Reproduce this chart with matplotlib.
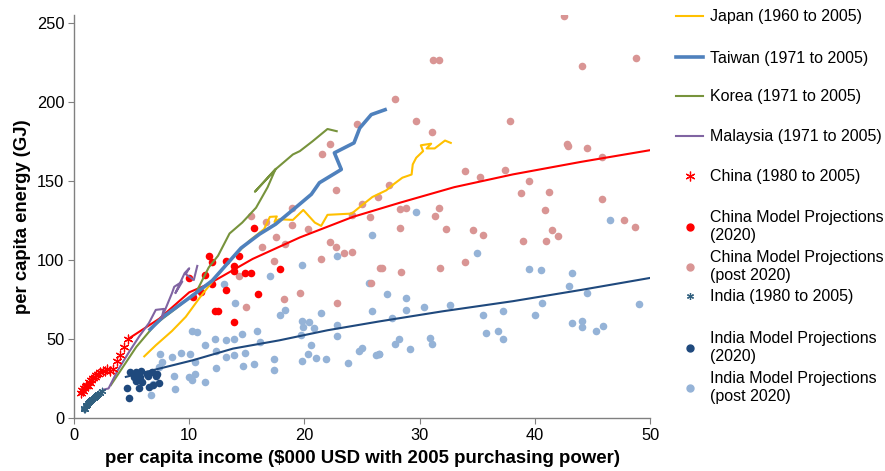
import numpy as np
import matplotlib
matplotlib.use('Agg')
from matplotlib import pyplot as plt
from matplotlib.lines import Line2D

plt.rcParams['font.family'] = ['Liberation Sans', 'DejaVu Sans']

# historical paths (per capita income $000, per capita energy GJ)
japan_x = [6.1, 7.1, 8.5, 9.7, 10.9, 12.3, 13.8, 15.2, 16.5, 17.0, 17.6, 17.4, 17.8, 19.0, 19.9, 20.9,
           21.45, 22.0, 24.1, 25.1, 25.9, 27.1, 27.8, 28.5, 29.3, 29.4, 29.7, 30.3, 30.1, 31.0, 30.6, 31.3,
           32.2, 32.7]
japan_y = [39, 46, 55, 64, 76, 89, 101.5, 112, 119.5, 127.2, 127.5, 124.0, 125.7, 125.3, 131.6, 123.6,
           121.5, 128.5, 129.3, 135.2, 139.8, 144, 148.2, 152, 154, 160.4, 164.6, 168.8, 172.5, 173.5, 170.5,
           170.5, 175.5, 174]

taiwan_x = [6.6, 7.7, 10.3, 12.0, 14.5, 16.1, 17.5, 19.3, 20.6, 21.3, 23.2, 22.6, 24.3, 24.8, 25.8, 27.0]
taiwan_y = [56, 63.8, 77.5, 86.9, 107.5, 116.3, 122.6, 133.5, 141.5, 148.8, 157.2, 167.7, 174, 183.4,
            191.9, 195]

korea_x = [3.2, 5.4, 7.1, 8.8, 10.6, 11.7, 12.5, 13.5, 14.6, 15.8, 16.8, 17.5, 15.7, 17.6, 19.0, 19.6,
           20.7, 22.0, 22.8]
korea_y = [20.8, 44.9, 59.6, 69, 79.5, 95.3, 102.6, 116.7, 123.6, 133, 145.9, 157.6, 143.1, 158, 166.7,
           168.8, 175, 182.8, 181.4]

malaysia_x = [2.6, 3.0, 3.8, 4.8, 5.65, 6.5, 7.1, 7.8, 7.6, 8.5, 8.7, 9.4, 8.8, 9.6, 10.0, 9.7, 10.4, 10.7]
malaysia_y = [18, 18.7, 30.2, 42, 51.5, 60, 68.4, 69, 63, 78.9, 83, 86.3, 79, 91.6, 94.7, 91, 87.3, 96.2]

china_hist_x = [0.6, 0.7, 0.8, 0.9, 1.0, 1.1, 1.2, 1.3, 1.4, 1.5, 1.65, 1.8, 1.95, 2.1, 2.3, 2.5, 2.7,
                2.9, 3.1, 3.4, 3.7, 4.0, 4.3, 4.7]
china_hist_y = [16, 18, 17, 19, 20, 21, 20, 23, 22, 24, 25, 26, 27, 28, 29, 30, 30, 31, 30, 31, 36, 40,
                45, 50]

india_hist_x = [0.85, 0.9, 0.95, 1.0, 1.05, 1.1, 1.15, 1.2, 1.3, 1.35, 1.4, 1.5, 1.6, 1.7, 1.8, 1.9, 2.0,
                2.1, 2.25, 2.4]
india_hist_y = [5.5, 6.5, 6, 7.5, 8, 8.5, 8, 9.5, 10, 10.5, 11, 11.5, 12, 12.5, 13.5, 14, 14.5, 15, 16, 17]

# model projections
china_2020_x = [15.6, 11.7, 12.0, 13.2, 14.3, 13.9, 13.9, 14.8, 15.4, 17.9, 11.4, 10.0, 12.0, 10.3, 11.0,
                13.2, 16.0, 12.2, 12.5, 13.9]
china_2020_y = [120, 102.6, 98.4, 99.5, 102.6, 96.3, 93.2, 91.5, 91.5, 94.5, 90.7, 88.6, 84.8, 76.4, 80,
                81, 78.5, 67.6, 67.6, 60.6]

china_post_x = [42.5, 31.2, 31.7, 48.8, 44.1, 27.9, 29.7, 37.8, 31.1, 42.8, 42.9, 44.5, 45.8, 33.9, 35.2,
                37.4, 27.3, 39.5, 38.8, 41.2, 45.8, 28.3, 28.8, 31.7, 31.3, 40.9, 28.3, 32.3, 34.6, 35.5,
                41.5, 42.0, 41.0, 39.0, 47.7, 48.7, 26.7, 28.4, 31.8, 33.9, 24.6, 22.2, 21.5, 22.7, 18.9,
                15.4, 16.7, 18.9, 20.3, 25.0, 26.4, 24.1, 25.7, 17.5, 18.3, 16.3, 22.2, 22.7, 23.4, 24.1,
                21.4, 17.4, 14.3, 26.6, 25.8, 19.6, 18.2, 22.8, 14.9]
china_post_y = [254, 226.7, 226.7, 227.7, 222.7, 202, 188, 187.8, 181, 173.6, 172, 170.6, 165, 156, 152.6,
                156.8, 147.5, 150, 142, 143, 138.7, 132, 132.7, 132.7, 128, 131.4, 120.3, 119.5, 118.8,
                115.9, 118.8, 115, 112, 112, 125.3, 120.5, 94.9, 92.4, 95.1, 98.9, 186.2, 173.2, 166.9,
                144.4, 133, 127.8, 124, 122.2, 119.8, 135.6, 140, 128.7, 127.4, 114.2, 109.8, 107.9, 111.5,
                107.9, 104.1, 105.2, 100.6, 99.5, 90, 94.6, 85.2, 78.9, 75.4, 72.9, 70.5]

india_2020_x = [4.9, 5.4, 5.8, 6.3, 6.8, 7.2, 5.2, 5.7, 6.4, 7.1, 4.6, 5.6, 6.5, 6.9, 7.4, 4.8, 5.4, 5.9]
india_2020_y = [29.2, 29.2, 29.6, 28.1, 29.2, 28.1, 26, 26, 26.4, 26.4, 18.7, 18.7, 19.7, 20.8, 21.9,
                12.8, 23.5, 22.9]

india_post_x = [29.7, 46.5, 35.0, 39.5, 40.5, 43.2, 43.0, 44.5, 27.2, 28.8, 28.8, 30.4, 32.6, 27.6, 35.5,
                37.2, 40.6, 40.0, 49.0, 43.2, 44.1, 44.1, 45.3, 45.9, 35.8, 36.8, 37.2, 28.2, 27.9, 30.9,
                31.1, 29.2, 26.5, 25.9, 22.8, 19.8, 17.0, 13.0, 25.6, 25.9, 14.0, 18.3, 17.9, 21.4, 19.8,
                20.4, 19.9, 20.8, 22.8, 22.8, 19.7, 10.2, 10.7, 15.9, 14.6, 12.2, 13.2, 13.9, 20.6, 11.4,
                12.3, 14.8, 16.1, 7.5, 7.6, 8.5, 9.3, 10.1, 10.5, 13.2, 13.9, 12.3, 14.7, 15.6, 17.4,
                20.3, 21.0, 19.8, 21.9, 23.8, 24.7, 25.0, 26.2, 26.5, 7.4, 8.7, 8.8, 10.0, 10.2, 10.5,
                11.4, 6.7, 6.9, 17.4]
india_post_y = [130.2, 125.3, 104.5, 94, 93.4, 91.9, 83.3, 79.3, 78.5, 75.8, 68.6, 70.1, 71.4, 63, 65.3,
                67.8, 73, 65, 72.4, 59.8, 61.5, 57.5, 54.8, 58.4, 53.7, 54.8, 49.7, 50.2, 46.8, 50.8, 47,
                43.9, 40.5, 115.9, 102.4, 97, 89.9, 85, 85.2, 67.4, 72.6, 68, 65.3, 66.3, 61.3, 60.6, 57.5,
                57.1, 58.6, 51.8, 52.5, 54.8, 54.6, 55, 52.9, 49.7, 49.6, 49.7, 46, 46.2, 42.6, 41.1, 47.9,
                40.3, 35.5, 38.4, 40.9, 40.3, 35.7, 38.6, 39.7, 31.7, 32.6, 34.4, 37.2, 40.7, 38, 36.1,
                37.6, 35.1, 42.4, 44.5, 40.1, 40.3, 32.3, 26.4, 18.5, 26, 23.9, 28.1, 22.9, 14.5, 21.8,
                30.2]

# fitted curves
china_fit_x = [4.7, 7.4, 10, 11.7, 15.5, 19.6, 24.2, 28.3, 33, 38.1, 44, 50]
china_fit_y = [50, 62.8, 79.5, 84.8, 100.6, 114.2, 127.2, 136.2, 146, 154.1, 162, 169.4]
india_fit_x = [4.5, 7.1, 10.3, 13.8, 17.8, 22, 26.5, 32, 38.1, 44, 50]
india_fit_y = [26, 30.7, 36.5, 43.9, 49.1, 55.5, 61.1, 67.5, 73.9, 81, 88.6]

c_japan = '#FFC000'
c_taiwan = '#4F81BD'
c_korea = '#77933C'
c_malaysia = '#8064A2'
c_china = '#FF0000'
c_china_post = '#D99594'
c_india = '#1F497D'
c_india_post = '#95B3D7'
c_india_hist = '#31607F'
star = (6, 2, 0)

fig = plt.figure(figsize=(8.85, 4.71), dpi=100)
ax = fig.add_axes([0.0836, 0.1125, 0.651, 0.856])

ax.scatter(india_post_x, india_post_y, s=30, color=c_india_post, zorder=2, linewidths=0)
ax.scatter(china_post_x, china_post_y, s=30, color=c_china_post, zorder=2, linewidths=0)
ax.scatter(india_2020_x, india_2020_y, s=30, color=c_india, zorder=3, linewidths=0)
ax.scatter(china_2020_x, china_2020_y, s=30, color=c_china, zorder=3, linewidths=0)

ax.plot(india_fit_x, india_fit_y, color=c_india, lw=1.5, zorder=4)
ax.plot(china_fit_x, china_fit_y, color=c_china, lw=1.5, zorder=4)

ax.plot(japan_x, japan_y, color=c_japan, lw=1.5, zorder=5)
ax.plot(korea_x, korea_y, color=c_korea, lw=1.5, zorder=5)
ax.plot(taiwan_x, taiwan_y, color=c_taiwan, lw=2.6, zorder=5)
ax.plot(malaysia_x, malaysia_y, color=c_malaysia, lw=1.5, zorder=6)

ax.scatter(china_hist_x, china_hist_y, s=40, marker=star, color=c_china, linewidths=0.9, zorder=6)
ax.scatter(india_hist_x, india_hist_y, s=22, marker=star, color=c_india_hist, linewidths=0.9, zorder=6)

ax.set_xlim(0, 50)
ax.set_ylim(0, 255)
ax.set_xticks([0, 10, 20, 30, 40, 50])
ax.set_yticks([0, 50, 100, 150, 200, 250])
for side in ['top', 'right']:
    ax.spines[side].set_visible(False)
for side in ['left', 'bottom']:
    ax.spines[side].set_color('#808080')
    ax.spines[side].set_linewidth(1.0)
ax.tick_params(direction='out', length=4, color='#808080', labelsize=11.8, pad=3)

ax.set_xlabel('per capita income ($000 USD with 2005 purchasing power)', fontsize=13.4,
              fontweight='bold', labelpad=5)
ax.set_ylabel('per capita energy (GJ)', fontsize=13.3, fontweight='bold', labelpad=4)

# legend, one entry at a time so the spacing follows the original
entries = [
    (Line2D([], [], color=c_japan, lw=1.5), 'Japan (1960 to 2005)', 17),
    (Line2D([], [], color=c_taiwan, lw=2.6), 'Taiwan (1971 to 2005)', 58),
    (Line2D([], [], color=c_korea, lw=1.5), 'Korea (1971 to 2005)', 97),
    (Line2D([], [], color=c_malaysia, lw=1.5), 'Malaysia (1971 to 2005)', 137),
    (Line2D([], [], ls='', marker=star, color=c_china, markersize=7, mew=0.9), 'China (1980 to 2005)', 177),
    (Line2D([], [], ls='', marker='o', color=c_china, markersize=5), 'China Model Projections\n(2020)', 226.5),
    (Line2D([], [], ls='', marker='o', color=c_china_post, markersize=5), 'China Model Projections\n(post 2020)', 266.5),
    (Line2D([], [], ls='', marker=star, color=c_india_hist, markersize=5, mew=0.9), 'India (1980 to 2005)', 297),
    (Line2D([], [], ls='', marker='o', color=c_india, markersize=5), 'India Model Projections\n(2020)', 347.5),
    (Line2D([], [], ls='', marker='o', color=c_india_post, markersize=5), 'India Model Projections\n(post 2020)', 387.5),
]
for handle, label, ypix in entries:
    lg = fig.legend([handle], [label], loc='center left', bbox_to_anchor=(676 / 885, 1 - ypix / 471),
                    frameon=False, fontsize=11.5, handlelength=1.7, handletextpad=0.45,
                    borderpad=0, borderaxespad=0)
    lg.get_texts()[0].set_linespacing(1.2)

fig.savefig('out.png', dpi=100)
